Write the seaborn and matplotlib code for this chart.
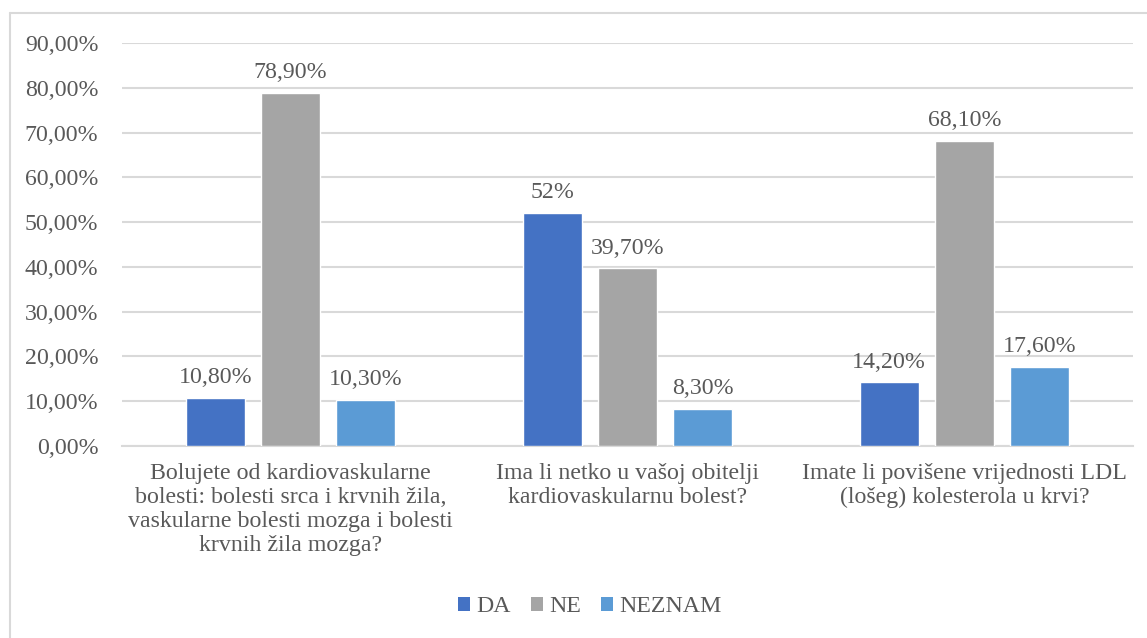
import os
import matplotlib
matplotlib.use("Agg")
import matplotlib.pyplot as plt
import seaborn as sns
import pandas as pd
from matplotlib.lines import Line2D
from matplotlib.patches import Patch
from matplotlib.font_manager import FontProperties

categories = [
    "Bolujete od kardiovaskularne\nbolesti: bolesti srca i krvnih žila,\nvaskularne bolesti mozga i bolesti\nkrvnih žila mozga?",
    "Ima li netko u vašoj obitelji\nkardiovaskularnu bolest?",
    "Imate li povišene vrijednosti LDL\n(lošeg) kolesterola u krvi?",
]
series = ["DA", "NE", "NEZNAM"]
da_values = [10.8, 52.0, 14.2]
ne_values = [78.9, 39.7, 68.1]
neznam_values = [10.3, 8.3, 17.6]
da_labels = ["10,80%", "52%", "14,20%"]
ne_labels = ["78,90%", "39,70%", "68,10%"]
neznam_labels = ["10,30%", "8,30%", "17,60%"]
y_ticks = [0, 10, 20, 30, 40, 50, 60, 70, 80, 90]
y_tick_labels = ["0,00%", "10,00%", "20,00%", "30,00%", "40,00%", "50,00%",
                 "60,00%", "70,00%", "80,00%", "90,00%"]
colors = ["#4472C4", "#A5A5A5", "#5B9BD5"]

df = pd.DataFrame({
    "category": categories * 3,
    "series": [s for s in series for _ in categories],
    "value": da_values + ne_values + neznam_values,
})

sns.set_style("white")
FS = 17.2
SERIF_PATH = "/usr/share/fonts/truetype/liberation/LiberationSerif-Regular.ttf"
if os.path.exists(SERIF_PATH):
    fp = FontProperties(fname=SERIF_PATH, size=FS)
else:
    fp = FontProperties(family="Liberation Serif", size=FS)
text_color = "#595959"
grid_color = "#D9D9D9"

fig = plt.figure(figsize=(11.47, 6.38), dpi=100)
ax = fig.add_axes([122/1147, 1 - 446/638, (1133 - 122)/1147, (446 - 43)/638])

sns.barplot(data=df, x="category", y="value", hue="series", order=categories,
            hue_order=series, palette=colors, width=0.67, gap=0.215,
            saturation=1, ax=ax, legend=False, zorder=3)

label_sets = [da_labels, ne_labels, neznam_labels]
for cont, labs in zip(ax.containers, label_sets):
    ax.bar_label(cont, labels=labs, padding=7, color=text_color, fontproperties=fp)

ax.set_ylim(0, 90)
ax.set_xlim(-0.5, 2.5)
ax.set_yticks(y_ticks)
ax.set_yticklabels(y_tick_labels, color=text_color, fontproperties=fp)
ax.tick_params(axis="y", length=0, pad=17)
ax.set_xticks(range(len(categories)))
ax.set_xticklabels(categories, color=text_color, linespacing=1.2, fontproperties=fp)
ax.tick_params(axis="x", which="major", length=0, pad=12)
ax.set_xticks([-0.5, 0.5, 1.5, 2.5], minor=True)
ax.tick_params(axis="x", which="minor", length=7, width=1.5, color=grid_color)
ax.yaxis.grid(True, color=grid_color, linewidth=1.5, zorder=0)
ax.set_axisbelow(True)
ax.set_xlabel("")
ax.set_ylabel("")
for side in ["top", "right", "left"]:
    ax.spines[side].set_visible(False)
ax.spines["bottom"].set_color(grid_color)
ax.spines["bottom"].set_linewidth(1.5)

handles = [Patch(facecolor=c, edgecolor="none") for c in colors]
fig.legend(handles, series, loc="center", bbox_to_anchor=(590/1147, 1 - 607/638),
           ncol=3, frameon=False, prop=fp,
           handlelength=0.5, handleheight=0.5,
           handletextpad=0.25, columnspacing=0.85, labelcolor=text_color)

# outer chart border (top and left visible)
fig.add_artist(Line2D([10/1147, 1.0], [1 - 13/638, 1 - 13/638], transform=fig.transFigure,
                      color=grid_color, linewidth=1.5))
fig.add_artist(Line2D([10/1147, 10/1147], [0.0, 1 - 13/638], transform=fig.transFigure,
                      color=grid_color, linewidth=1.5))

fig.savefig("out.png", dpi=100)
